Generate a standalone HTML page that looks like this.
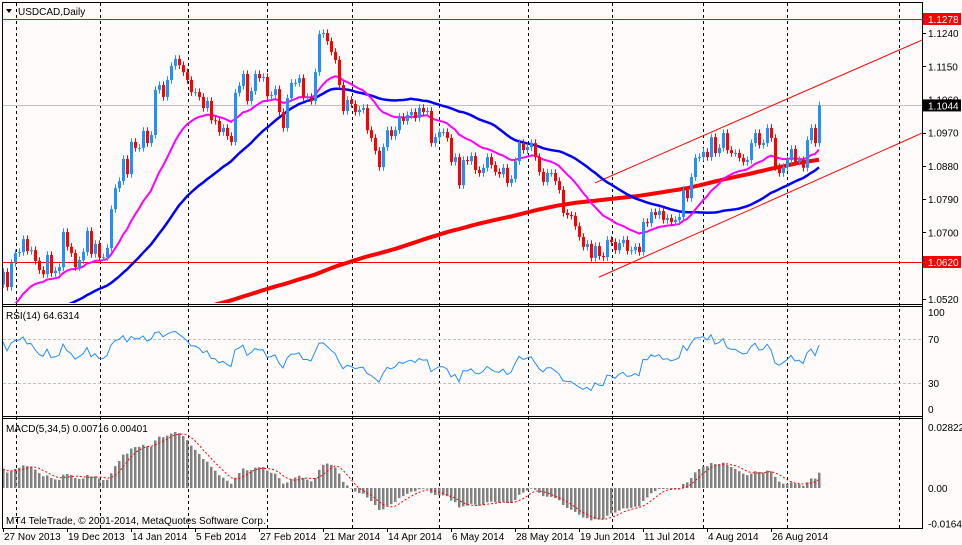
<!DOCTYPE html>
<html><head><meta charset="utf-8"><style>
html,body{margin:0;padding:0;background:#fff;}
svg{display:block;font-family:"Liberation Sans",sans-serif;}
</style></head><body>
<svg id="chart" width="962" height="545" viewBox="0 0 962 545" xmlns="http://www.w3.org/2000/svg">
<rect x="0" y="0" width="962" height="545" fill="#fffbfa"/>
<defs>
<clipPath id="cMain"><rect x="3" y="3" width="919" height="300"/></clipPath>
<clipPath id="cRsi"><rect x="3" y="307" width="919" height="109"/></clipPath>
<clipPath id="cMacd"><rect x="3" y="420" width="919" height="108"/></clipPath>
</defs>
<g id="grid"></g>
<g id="main" clip-path="url(#cMain)"></g>
<g id="rsi" clip-path="url(#cRsi)"></g>
<g id="macd" clip-path="url(#cMacd)"></g>
<g id="frame" stroke="#000" fill="none">
<rect x="2.5" y="2.5" width="920" height="526"/>
<line x1="2" y1="304.5" x2="923" y2="304.5"/><line x1="2" y1="306.5" x2="923" y2="306.5"/>
<line x1="2" y1="416.5" x2="923" y2="416.5"/><line x1="2" y1="418.5" x2="923" y2="418.5"/>
</g>
<g id="axis" font-size="10" fill="#000"></g>
<polygon points="6,9 12,9 9,13" fill="#000"/>
<text x="18" y="15" font-size="10">USDCAD,Daily</text>
<text x="6" y="319" font-size="10">RSI(14) 64.6314</text>
<text x="6" y="432" font-size="10">MACD(5,34,5) 0.00716 0.00401</text>
<text x="6" y="524" font-size="10">MT4 TeleTrade, © 2001-2014, MetaQuotes Software Corp.</text>
</svg>
<script>
const closes = [1.0593,1.0552,1.0617,1.0644,1.0647,1.0682,1.0650,1.0652,1.0623,1.0598,1.0587,1.0639,1.0590,1.0596,1.0606,1.0701,1.0661,1.0644,1.0606,1.0625,
1.0647,1.0704,1.0642,1.0669,1.0633,1.0633,1.0658,1.0763,1.0820,1.0839,1.0899,1.0858,1.0945,1.0929,1.0929,1.0975,1.0942,1.0964,1.1086,1.1099,
1.1067,1.1113,1.1151,1.1170,1.1153,1.1134,1.1113,1.1080,1.1080,1.1067,1.1037,1.1056,1.1004,1.1002,1.0972,1.0983,1.0961,1.0945,1.1078,1.1097,
1.1129,1.1056,1.1083,1.1129,1.1118,1.1121,1.1069,1.1072,1.1088,1.1026,1.0983,1.1064,1.1105,1.1105,1.1118,1.1067,1.1067,1.1056,1.1134,1.1237,
1.1240,1.1218,1.1189,1.1167,1.1099,1.1029,1.1059,1.1048,1.1026,1.1032,1.1037,1.0977,1.0956,1.0921,1.0877,1.0931,1.0977,1.0961,1.0977,1.1013,
1.1002,1.1018,1.1026,1.1010,1.1037,1.1026,1.1029,1.0942,1.0958,1.0972,1.0972,1.0956,1.0891,1.0904,1.0828,1.0896,1.0893,1.0907,1.0869,1.0861,
1.0875,1.0904,1.0883,1.0864,1.0858,1.0875,1.0834,1.0845,1.0893,1.0942,1.0923,1.0931,1.0942,1.0904,1.0864,1.0837,1.0861,1.0861,1.0839,1.0815,
1.0753,1.0747,1.0745,1.0717,1.0688,1.0661,1.0669,1.0631,1.0663,1.0636,1.0633,1.0680,1.0674,1.0652,1.0671,1.0680,1.0650,1.0652,1.0661,1.0647,
1.0728,1.0725,1.0755,1.0747,1.0758,1.0734,1.0739,1.0728,1.0734,1.0742,1.0815,1.0793,1.0850,1.0902,1.0904,1.0918,1.0904,1.0958,1.0915,1.0929,
1.0969,1.0923,1.0915,1.0915,1.0902,1.0891,1.0896,1.0942,1.0969,1.0937,1.0942,1.0983,1.0956,1.0877,1.0861,1.0877,1.0896,1.0926,1.0891,1.0896,
1.0875,1.0950,1.0983,1.0942,1.1044];
const firstOpen = 1.0560;
const preHistory = [1.0250,1.0300,1.0380,1.0420,1.0350,1.0300,1.0380,1.0420,1.0400,1.0440];
const channelUpper = [[148,1.0834],[229.75,1.1221]];
const channelLower = [[149,1.0579],[229.75,1.0969]];
const levels = [1.1278,1.0620];
const lastPrice = 1.1044;
const priceTicks = ["1.1240","1.1150","1.1060","1.0970","1.0880","1.0790","1.0700","1.0520"];
const rsiTicks = [100,70,30,0];
const macdTicks = ["0.02822","0.00","-0.0164"];
const dateLabels = ["27 Nov 2013","19 Dec 2013","14 Jan 2014","5 Feb 2014","27 Feb 2014","21 Mar 2014","14 Apr 2014","6 May 2014","28 May 2014","19 Jun 2014","11 Jul 2014","4 Aug 2014","26 Aug 2014"];
const gridX = [16,100,188,267,352,439,528,612,703,787,899];

const NS="http://www.w3.org/2000/svg";
const xOf=i=>3+4*i;
const yP=p=>19+(1.1278-p)*3693;
const yR=r=>416-1.1*r;
const yM=m=>488-m*2170;
function mk(tag,attrs,parent){const e=document.createElementNS(NS,tag);for(const k in attrs)e.setAttribute(k,attrs[k]);parent.appendChild(e);return e;}
const G=id=>document.getElementById(id);
const main=G('main'),rsiG=G('rsi'),macdG=G('macd'),grid=G('grid'),axis=G('axis');

gridX.forEach(x=>{const l=mk('line',{x1:x+.5,y1:3,x2:x+.5,y2:528,stroke:'#000','stroke-dasharray':'3,3'},grid);

});
[70,30].forEach(v=>{const l=mk('line',{x1:3,y1:Math.round(yR(v))+.5,x2:922,y2:Math.round(yR(v))+.5,stroke:'#c0c0c0','stroke-dasharray':'3,2'},grid);

});

function ema(arr,n,seed){const a=2/(n+1);let v=seed;return arr.map(c=>{v=v+a*(c-v);return v;});}
const full=[];preHistory.forEach(b=>{for(let k=0;k<20;k++)full.push(b);});
const off=full.length;closes.forEach(c=>full.push(c));
function sma(n){return closes.map((c,i)=>{let s=0;for(let k=off+i-n+1;k<=off+i;k++)s+=full[k];return s/n;});}
const sma200=sma(200);
const sma45=sma(45);
const ema21=ema(closes,21,1.0460);
function pathOf(vals,fy){return vals.map((v,i)=>(i?'L':'M')+xOf(i)+','+fy(v).toFixed(1)).join('');}

levels.forEach(p=>{const l=mk('line',{x1:3,y1:Math.round(yP(p))+.5,x2:922,y2:Math.round(yP(p))+.5,stroke:'#ff0000'},main);

});
{const l=mk('line',{x1:3,y1:Math.round(yP(lastPrice))+.5,x2:922,y2:Math.round(yP(lastPrice))+.5,stroke:'#c0c0c0'},main);

}
[channelUpper,channelLower].forEach(ch=>{const l=mk('line',{x1:xOf(ch[0][0]),y1:yP(ch[0][1]),x2:xOf(ch[1][0]),y2:yP(ch[1][1]),stroke:'#ff0000','stroke-width':1},main);

});

{const p=mk('path',{d:pathOf(sma200,yP),stroke:'#ff0000','stroke-width':4,fill:'none'},main);

}
{const p=mk('path',{d:pathOf(sma45,yP),stroke:'#0000ff','stroke-width':2.5,fill:'none'},main);

}
{const p=mk('path',{d:pathOf(ema21,yP),stroke:'#ff00ff','stroke-width':2,fill:'none'},main);

}

closes.forEach((c,i)=>{
 const o=i?closes[i-1]:firstOpen;const up=c>=o;const col=up?'#1e90ff':'#ff0000';
 const x=xOf(i);const hi=Math.max(o,c)+0.0010,lo=Math.min(o,c)-0.0010;
 const g=mk('g',{},main);
 
 
 mk('line',{x1:x+.5,y1:yP(hi),x2:x+.5,y2:yP(lo),stroke:col},g);
 const yt=yP(Math.max(o,c)),yb=yP(Math.min(o,c));
 mk('rect',{x:x-1,y:yt,width:3,height:Math.max(1,yb-yt),fill:col},g);
});

const rsi=[];let ag=0,al=0;
closes.forEach((c,i)=>{const prev=i?closes[i-1]:firstOpen;const d=c-prev;const g=Math.max(d,0),l=Math.max(-d,0);
 if(i===0){ag=0.0014;al=0.0008;} ag=(ag*13+g)/14;al=(al*13+l)/14;rsi.push(al===0?100:100-100/(1+ag/al));});
{const p=mk('path',{d:pathOf(rsi,yR),stroke:'#1e90ff','stroke-width':1,fill:'none'},rsiG);

}

const e5=ema(closes,5,closes[0]),e34=ema(closes,34,1.0500);
const macd=closes.map((c,i)=>e5[i]-e34[i]);
const signal=macd.map((m,i)=>{let s=0,n=0;for(let k=Math.max(0,i-4);k<=i;k++){s+=macd[k];n++;}return s/n;});
macd.forEach((m,i)=>{const y0=yM(0),y1=yM(m);const r=mk('rect',{x:xOf(i)-1,y:Math.min(y0,y1),width:2.5,height:Math.max(.5,Math.abs(y1-y0)),fill:'#808080'},macdG);
 
 });
{const p=mk('path',{d:pathOf(signal,yM),stroke:'#ff0000','stroke-width':1,'stroke-dasharray':'2,2',fill:'none'},macdG);

}

priceTicks.forEach(t=>{const y=yP(parseFloat(t));mk('line',{x1:922,y1:Math.round(y)+.5,x2:926,y2:Math.round(y)+.5,stroke:'#000'},axis);
 const e=mk('text',{x:928,y:y+4},axis);e.textContent=t;
 
 });
function box(p,fill,name){const y=yP(p);const r=mk('rect',{x:923,y:y-6,width:38,height:12,fill:fill},axis);
 
 
 const t=mk('text',{x:928,y:y+4,fill:'#fff'},axis);t.textContent=p.toFixed(4);
 
 }
box(levels[0],'#ff0000','level-high-box');box(levels[1],'#ff0000','level-low-box');box(lastPrice,'#000','last-price-box');
rsiTicks.forEach(v=>{const y=yR(v);const e=mk('text',{x:928,y:Math.min(Math.max(y+4,316),413)},axis);e.textContent=v;
 
 });
macdTicks.forEach(t=>{const y=yM(parseFloat(t));const e=mk('text',{x:928,y:Math.max(y+4,430)},axis);e.textContent=t;
 
 });
dateLabels.forEach((d,k)=>{const x=xOf(16*k);mk('line',{x1:x+.5,y1:528,x2:x+.5,y2:532,stroke:'#000'},axis);
 const e=mk('text',{x:x+1,y:540},axis);e.textContent=d;
 
 });
</script>
</body></html>
